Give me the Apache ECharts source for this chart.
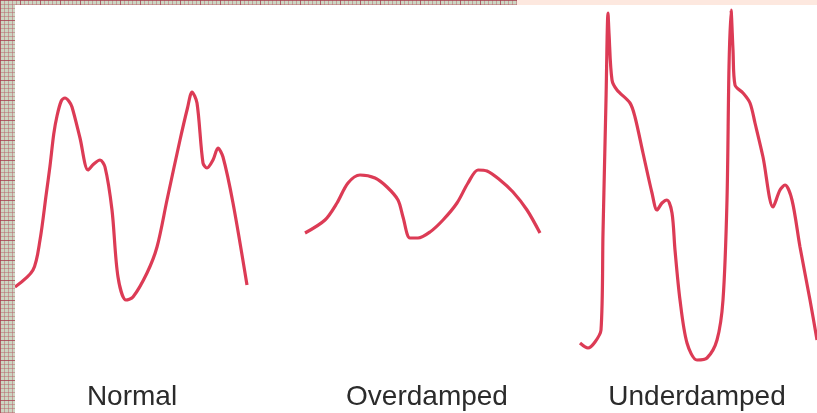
<!DOCTYPE html>
<html>
<head>
<meta charset="utf-8">
<style>html,body{margin:0;padding:0;background:#fff}#c{width:817px;height:413px}</style>
<script src="https://cdn.jsdelivr.net/npm/echarts@6/dist/echarts.min.js"></script>
</head>
<body>
<div id="c"></div>
<script>
// Labels
const labels = ['Normal', 'Overdamped', 'Underdamped'];
// Time (ms) and pressure (mmHg-like units)
const normalT = [0,72,100,125,140,155,168,185,200,215,228,260,292,315,340,360,388,412,444,472,528,568,608,660,690,708,728,752,768,792,812,832,872,928];
const normalP = [56.5,65,80,103,117,133,142,149.5,151,149.5,146.5,131,115,118,120,116.5,95,61.5,50,51.5,63.5,76.5,100,130,146,154,148.5,118.5,116,120,126,121.5,98.5,57.5];
const overT = [20,100,148,192,240,300,348,392,412,440,472,520,572,628,672,712,748,800,852,908,960];
const overP = [83.5,90,98.5,108.5,112.5,111,106.5,100,91.5,81,81,84,90,98.5,108.5,115,114.5,110,104,95,83.5];
const underT = [20,52,80,104,112,124,132,136,148,168,220,240,272,308,328,348,368,388,400,420,448,488,528,568,592,608,616,624,632,640,672,700,720,752,792,820,840,868,900,940,968];
const underP = [28.5,26,29,35,83.5,150,193.5,183.5,160,155,148.5,141.5,123.5,103.5,95,98.5,100,93.5,75,50,28.5,20,21,30,50,100,166.5,195,175,157.5,153.5,148.5,138.5,121.5,96.5,105,107.5,100,76.5,50,30];

function zip(t,p){return t.map((v,i)=>[v,p[i]]);}

// grid-paper pattern
const pc = document.createElement('canvas');
pc.width = 20; pc.height = 20;
const g = pc.getContext('2d');
g.fillStyle = '#ccd6c3'; g.fillRect(0,0,20,20);
g.fillStyle = 'rgba(185,100,110,0.5)';
for (let i=0;i<20;i+=4){ g.fillRect(i,0,1,20); g.fillRect(0,i,20,1); }
g.fillStyle = 'rgba(165,60,75,0.65)';
g.fillRect(0,0,1,20); g.fillRect(0,0,20,1);

const chart = echarts.init(document.getElementById('c'), null, {renderer:'canvas'});
const grids = [
  {left:15, top:0, width:235, height:400},
  {left:300, top:0, width:245, height:400},
  {left:575, top:0, width:242, height:400}
];
const maxT = [940, 980, 968];
const lineColor = '#dc3b55';
const centers = [132, 427, 697];
chart.setOption({
  animation:false,
  backgroundColor:'#ffffff',
  grid: grids,
  xAxis: grids.map((_,i)=>({type:'value', gridIndex:i, min:0, max:maxT[i], show:false})),
  yAxis: grids.map((_,i)=>({type:'value', gridIndex:i, min:0, max:200, show:false})),
  title: labels.map((l,i)=>({text:l, left:centers[i], textAlign:'center', top:383, padding:0,
    textStyle:{fontFamily:'Liberation Sans, Arial, sans-serif', fontSize:28, fontWeight:'normal', color:'#2b2b2b'}})),
  graphic: [
    {type:'rect', shape:{x:0,y:0,width:15,height:413}, style:{fill:{image:pc, repeat:'repeat'}}, silent:true, z:10},
    {type:'rect', shape:{x:0,y:0,width:517,height:5}, style:{fill:{image:pc, repeat:'repeat'}}, silent:true, z:10},
    {type:'rect', shape:{x:517,y:0,width:300,height:5}, style:{fill:'#fde8df'}, silent:true, z:10}
  ],
  series: [
    {type:'line', xAxisIndex:0, yAxisIndex:0, data:zip(normalT,normalP)},
    {type:'line', xAxisIndex:1, yAxisIndex:1, data:zip(overT,overP)},
    {type:'line', xAxisIndex:2, yAxisIndex:2, data:zip(underT,underP)}
  ].map(s=>Object.assign(s,{smooth:0.3, showSymbol:false, clip:false, lineStyle:{color:lineColor, width:3.2}}))
});
</script>
</body>
</html>
